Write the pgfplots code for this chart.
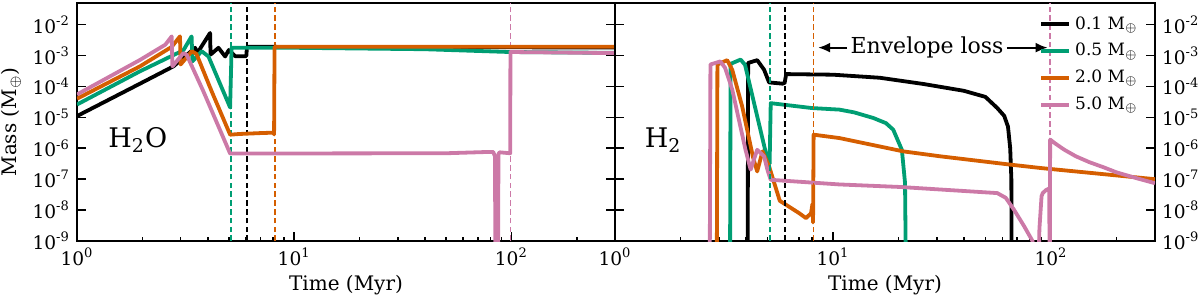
\documentclass[border=0pt]{standalone}
\usepackage{fontspec}
\setmainfont{DejaVu Serif}
\usepackage{pgfplots}
\pgfplotsset{compat=1.18}
\usetikzlibrary{arrows.meta}
\definecolor{cblack}{HTML}{000000}
\definecolor{cgreen}{HTML}{009E73}
\definecolor{corange}{HTML}{D55E00}
\definecolor{cpink}{HTML}{CC79A7}
\begin{document}
\begin{tikzpicture}
\begin{axis}[
    scale only axis, width=269pt, height=119pt,
    xmode=log, ymode=log, xmin=1, xmax=300, ymin=1e-9, ymax=5e-2,
    xtick={1,10,100},
    xticklabels={10\textsuperscript{0},10\textsuperscript{1},10\textsuperscript{2}},
    minor xtick={2,3,4,5,6,7,8,9,20,30,40,50,60,70,80,90,200},
    ytick={1e-9,1e-8,1e-7,1e-6,1e-5,1e-4,1e-3,1e-2},
    yticklabels={10\textsuperscript{-9},10\textsuperscript{-8},10\textsuperscript{-7},10\textsuperscript{-6},10\textsuperscript{-5},10\textsuperscript{-4},10\textsuperscript{-3},10\textsuperscript{-2}},
    yminorticks=false,
    xtick pos=left, ytick pos=both,
    tick align=inside,
    major tick length=4.5pt, minor tick length=2.2pt,
    every tick/.style={black, line width=0.8pt},
    axis line style={line width=0.9pt},
    tick label style={font=\fontsize{9.3}{11}\selectfont},
    label style={font=\fontsize{9.5}{11}\selectfont},
    xlabel={Time (Myr)},
    every axis x label/.style={at={(axis description cs:0.5,-0.185)},anchor=center},
    ylabel={Mass (M\textsubscript{$\oplus$})},
    every axis y label/.style={at={(axis description cs:-0.1227,0.5)},rotate=90,anchor=center},
  ]
\addplot[forget plot, cgreen, line width=0.9pt, dash pattern=on 2.8pt off 1.6pt] coordinates {(5.13,1e-9) (5.13,5e-2)};
\addplot[forget plot, cblack, line width=0.9pt, dash pattern=on 2.8pt off 1.6pt] coordinates {(6.04,1e-9) (6.04,5e-2)};
\addplot[forget plot, corange, line width=0.9pt, dash pattern=on 2.8pt off 1.6pt] coordinates {(8.13,1e-9) (8.13,5e-2)};
\addplot[forget plot, cpink, line width=0.9pt, dash pattern=on 2.8pt off 1.6pt] coordinates {(99,1e-9) (99,5e-2)};
\addplot[cblack, line width=1.9pt, line join=round] coordinates {(1,1.1e-5)(1.95,1.23e-4)(2.78,4.47e-4)(3.50,1.78e-3)(3.58,1.2e-3)(4.10,5.37e-3)(4.12,1.07e-3)(4.48,1.78e-3)(4.81,9.33e-4)(5.0,1.51e-3)(5.35,9.55e-4)(6.02,9.55e-4)(6.06,1.91e-3)(300,1.82e-3)};
\addplot[cgreen, line width=1.9pt, line join=round] coordinates {(1,2.6e-5)(1.95,3.09e-4)(3.09,1.48e-3)(3.37,4.17e-3)(3.40,6.46e-4)(3.75,1.38e-3)(4.03,9.33e-4)(5.07,2.09e-5)(5.15,1.78e-3)(10,1.78e-3)(40,1.6e-3)(98,1.3e-3)(300,1.22e-3)};
\addplot[corange, line width=1.9pt, line join=round] coordinates {(1,4.0e-5)(1.95,4.47e-4)(2.73,1.91e-3)(2.98,4.17e-3)(3.00,5.13e-4)(3.38,1.38e-3)(3.55,1.12e-3)(4.17,6.92e-5)(5.07,2.75e-6)(5.6,2.9e-6)(7.0,3.1e-6)(8.03,3.2e-6)(8.08,2.8e-6)(8.12,1.91e-3)(300,1.91e-3)};
\addplot[cpink, line width=1.9pt, line join=round] coordinates {(1,5.5e-5)(1.95,7.2e-4)(2.55,2.24e-3)(2.73,4.17e-3)(2.75,4.47e-4)(3.09,1.20e-3)(3.2,1.05e-3)(3.82,6.92e-5)(5.07,6.76e-7)(50,6.9e-7)(78,7.6e-7)(82.5,7.6e-7)(84.0,5.5e-7)(84.5,1e-10)(86.8,1e-10)(87.2,6.5e-7)(88.3,7.4e-7)(98.8,6.9e-7)(99,1.3e-3)(300,1.2e-3)};
\node[font=\fontsize{13.5}{16}\selectfont] at (rel axis cs:0.113,0.424) {$\mathrm{H_2O}$};
\end{axis}
\begin{axis}[
    xshift=269pt,
    scale only axis, width=270pt, height=119pt,
    xmode=log, ymode=log, xmin=1, xmax=300, ymin=1e-9, ymax=5e-2,
    xtick={1,10,100},
    xticklabels={10\textsuperscript{0},10\textsuperscript{1},10\textsuperscript{2}},
    minor xtick={2,3,4,5,6,7,8,9,20,30,40,50,60,70,80,90,200},
    ytick={1e-9,1e-8,1e-7,1e-6,1e-5,1e-4,1e-3,1e-2},
    yticklabels={10\textsuperscript{-9},10\textsuperscript{-8},10\textsuperscript{-7},10\textsuperscript{-6},10\textsuperscript{-5},10\textsuperscript{-4},10\textsuperscript{-3},10\textsuperscript{-2}},
    yminorticks=false,
    xtick pos=left, yticklabel pos=right, ytick pos=both,
    tick align=inside,
    major tick length=4.5pt, minor tick length=2.2pt,
    every tick/.style={black, line width=0.8pt},
    axis line style={line width=0.9pt},
    tick label style={font=\fontsize{9.3}{11}\selectfont},
    label style={font=\fontsize{9.5}{11}\selectfont},
    xlabel={Time (Myr)},
    every axis x label/.style={at={(axis description cs:0.5,-0.185)},anchor=center},
    legend style={at={(rel axis cs:0.976,0.962)}, anchor=north east, draw=none, fill=none,
      font=\fontsize{8.5}{10}\selectfont, row sep=1.6pt, inner sep=0pt, cells={anchor=west}},
    legend image code/.code={\draw[#1, line width=2.2pt] (0pt,0pt) -- (14pt,0pt);},
  ]
\addplot[cblack, line width=1.9pt, line join=round] coordinates {(4.06,1e-10)(4.08,5.75e-4)(4.49,7.08e-4)(4.83,3.47e-4)(5.09,1.35e-4)(5.87,1.23e-4)(6.0,1.3e-4)(6.1,2.51e-4)(10,2.4e-4)(16.4,1.91e-4)(26,1.2e-4)(39.8,7.24e-5)(50,4.6e-5)(56.7,2.0e-5)(61,1.12e-5)(63.5,5e-6)(65,1e-6)(65.8,1e-7)(66,1e-10)};
\addlegendentry{0.1 M\textsubscript{$\oplus$}}
\addplot[cgreen, line width=1.9pt, line join=round] coordinates {(3.37,1e-10)(3.39,5.37e-4)(3.77,7.41e-4)(3.95,5.0e-4)(4.92,7.08e-7)(5.12,3.16e-7)(5.18,2.88e-5)(8,2.0e-5)(10.7,1.78e-5)(12.5,1.45e-5)(15.3,9.55e-6)(17.5,6.5e-6)(18.9,3.98e-6)(20.7,8.91e-7)(21.4,7.59e-8)(21.6,1e-10)};
\addlegendentry{0.5 M\textsubscript{$\oplus$}}
\addplot[corange, line width=1.9pt, line join=round] coordinates {(2.93,1e-10)(2.95,5.13e-4)(3.27,7.08e-4)(3.45,3.47e-4)(3.83,2.29e-5)(4.3,5.01e-7)(4.49,1.78e-7)(4.75,7.94e-7)(5.1,2.5e-7)(5.7,2e-8)(7.0,7.94e-9)(7.52,5.5e-9)(7.93,7.94e-9)(8.05,1.58e-8)(8.1,3.98e-9)(8.15,2.75e-6)(10.7,2.14e-6)(21,7.94e-7)(31,5.5e-7)(65.3,2.95e-7)(90,2.29e-7)(300,1.0e-7)};
\addlegendentry{2.0 M\textsubscript{$\oplus$}}
\addplot[cpink, line width=1.9pt, line join=round] coordinates {(2.72,1e-10)(2.74,5.13e-4)(3.04,6.46e-4)(3.2,3.98e-4)(3.45,7.94e-5)(3.97,8.91e-7)(4.19,2.04e-7)(4.49,8.91e-7)(4.83,5.5e-7)(5.0,2.04e-7)(5.18,9.55e-8)(10.7,6.76e-8)(20.3,5.6e-8)(56.7,3.55e-8)(62,2.5e-8)(67.7,1.02e-8)(75,3.16e-9)(82.3,1e-9)(84,1e-10)(87.5,1e-10)(88.5,2.5e-9)(90.5,2.8e-8)(91.6,3.55e-8)(95,4.47e-8)(98.2,5e-8)(98.5,1e-10)(98.8,1e-10)(99.1,1.91e-6)(105,1.4e-6)(115,9e-7)(130,5.5e-7)(150,3.55e-7)(175,2.4e-7)(200,1.66e-7)(250,1.05e-7)(300,7.4e-8)};
\addlegendentry{5.0 M\textsubscript{$\oplus$}}
\addplot[forget plot, cgreen, line width=0.9pt, dash pattern=on 2.8pt off 1.6pt] coordinates {(5.13,1e-9) (5.13,5e-2)};
\addplot[forget plot, cblack, line width=0.9pt, dash pattern=on 2.8pt off 1.6pt] coordinates {(6.04,1e-9) (6.04,5e-2)};
\addplot[forget plot, corange, line width=0.9pt, dash pattern=on 2.8pt off 1.6pt] coordinates {(8.13,1e-9) (8.13,5e-2)};
\addplot[forget plot, cpink, line width=0.9pt, dash pattern=on 2.8pt off 1.6pt] coordinates {(99,1e-9) (99,5e-2)};
\node[font=\fontsize{13.5}{16}\selectfont] at (rel axis cs:0.089,0.424) {$\mathrm{H_2}$};
\node[font=\fontsize{11}{13}\selectfont, inner sep=1.5pt] (env) at (axis cs:27,1.8e-3) {Envelope loss};
\draw[line width=1pt, -{Latex[length=6pt,width=5pt]}] (env.west) -- (axis cs:8.55,1.8e-3);
\draw[line width=1pt, -{Latex[length=6pt,width=5pt]}] (env.east) -- (axis cs:96.5,1.8e-3);
\end{axis}
\pgfresetboundingbox
\path[use as bounding box] (-38.5pt,-30.5pt) rectangle (561.5pt,120.5pt);
\end{tikzpicture}
\end{document}
